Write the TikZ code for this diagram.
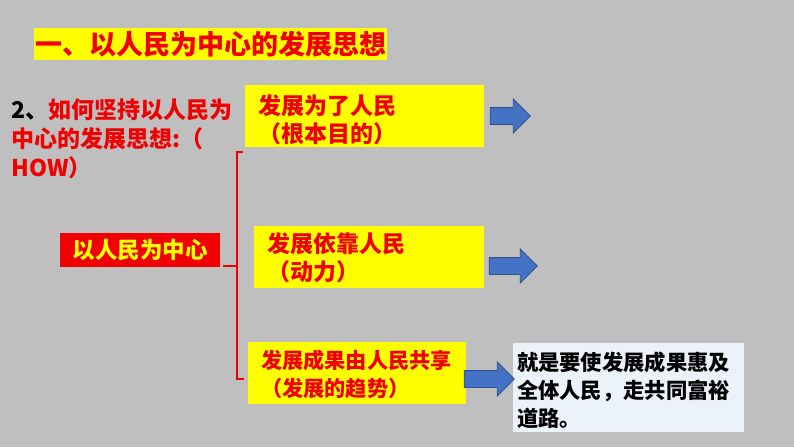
\documentclass[tikz,border=0pt]{standalone}
\usepackage{fontspec}
\setmainfont{Noto Sans CJK SC}
\usepackage{xcolor}
\usetikzlibrary{arrows.meta, positioning, shapes.arrows}
\definecolor{slidegray}{HTML}{BFBFBF}
\definecolor{hlyellow}{HTML}{FFFF00}
\definecolor{hlred}{HTML}{F00000}
\definecolor{arrowblue}{HTML}{4472C4}
\definecolor{arrowedge}{HTML}{2F528F}
\definecolor{notebg}{HTML}{EBF2FA}
\newcommand{\lift}[1]{\rule{0pt}{#1}}

\begin{document}
\begin{tikzpicture}[
    x=1pt, y=-1pt,
    titlebox/.style={fill=hlyellow, inner sep=1pt, minimum width=345pt, minimum height=32pt, text=hlred, font=\fontsize{27}{32}\selectfont\bfseries},
    waybox/.style={fill=hlyellow, inner xsep=13pt, inner ysep=0pt, minimum width=#1, minimum height=62pt, text width=#1-26pt, align=left, text=hlred, font=\fontsize{23}{28}\selectfont\bfseries},
    corebox/.style={fill=hlred, inner sep=0pt, minimum width=160pt, minimum height=34pt, text=hlyellow, font=\fontsize{22.5}{26}\selectfont\bfseries},
    notebox/.style={fill=notebg, inner xsep=4pt, inner ysep=0pt, minimum width=231pt, minimum height=89pt, text width=223pt, align=left, font=\fontsize{21.3}{28}\selectfont\bfseries},
    blockarrow/.style={single arrow, draw=arrowedge, fill=arrowblue, line width=0.8pt, inner xsep=0pt, inner ysep=8pt, minimum width=33pt, minimum height=#1, single arrow head extend=8.5pt},
    bracket/.style={draw=hlred, line width=1.5pt},
]

% Background
\fill[slidegray] (0,0) rectangle (794,447);
\useasboundingbox (0,0) rectangle (794,447);

% Title
\node[titlebox] (title) at (210.5,44) {一、以人民为中心的发展思想};

% Question
\node[anchor=north west, inner sep=0pt, text width=235pt, align=left, text=hlred, font=\fontsize{23}{29}\selectfont\bfseries] (question) at (11,99)
  {\textcolor{black}{2、}如何坚持以人民为\\中心的发展思想:（\\HOW）};

% Centre
\node[corebox] (core) at (140,250) {以人民为中心};

% Three ways
\node[waybox=239pt] (goal) at (364.5,116) {\lift{27pt}发展为了人民\\（根本目的）};
\node[waybox=230pt] (power) at (369,257) {\lift{22pt}发展依靠人民\\（动力）};
\node[waybox=218pt, font=\fontsize{21.2}{28}\selectfont\bfseries] (share) at (357,373) {\lift{21pt}发展成果由人民共享\\（发展的趋势）};

% Result
\node[notebox] (note) at (628.5,387.5) {\lift{25pt}就是要使发展成果惠及\\全体人民，走共同富裕\\道路。};

% Block arrows
\node[blockarrow=40pt] (arrgoal) at (506,116) {};
\node[blockarrow=48pt] (arrpower) at (509,266) {};
\node[blockarrow=50pt] (arrshare) at (485,379) {};

% Bracket
\coordinate (brtop) at (237,152);
\coordinate (brmid) at (237,266);
\coordinate (brbot) at (237,379);
\draw[bracket] ([xshift=3pt]core.east |- brmid) -- (brmid);
\draw[bracket] ([xshift=6pt]brtop) -- (brtop) -- (brbot) -- ([xshift=7pt]brbot);

\end{tikzpicture}
\end{document}
